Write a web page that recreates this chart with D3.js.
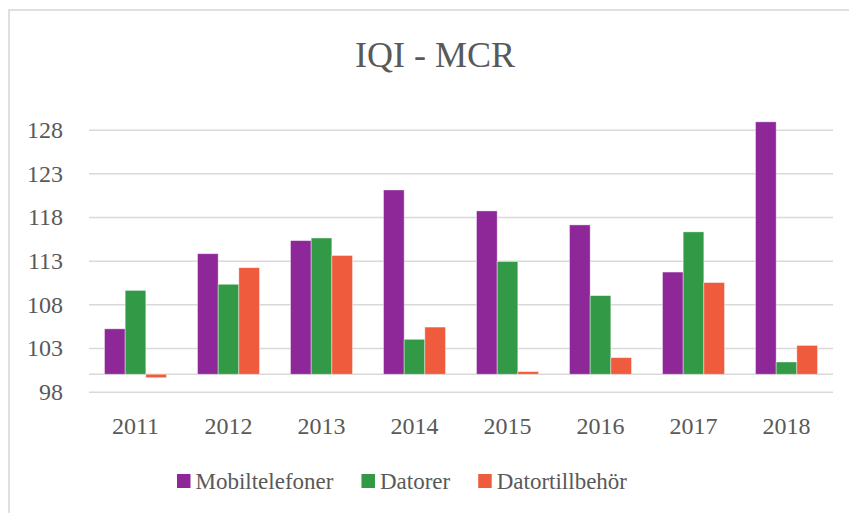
<!DOCTYPE html>
<html>
<head>
<meta charset="utf-8">
<script src="https://cdn.jsdelivr.net/npm/d3@7"></script>
<style>
  body { margin: 0; background: #fff; }
  svg { display: block; }
</style>
</head>
<body>
<svg id="chart" width="849" height="513"></svg>
<script>
// data
const years = ["2011", "2012", "2013", "2014", "2015", "2016", "2017", "2018"];
const seriesNames = ["Mobiltelefoner", "Datorer", "Datortillbehör"];
const mobiltelefoner = [105.2, 113.8, 115.3, 121.1, 118.7, 117.1, 111.7, 128.9];
const datorer = [109.6, 110.3, 115.6, 104.0, 112.9, 109.0, 116.3, 101.4];
const datortillbehor = [99.6, 112.2, 113.6, 105.4, 100.3, 101.9, 110.5, 103.3];
const yTicks = [98, 103, 108, 113, 118, 123, 128];
const baseValue = 100;

const colors = ["#8e2899", "#329a46", "#ef5b3d"];
const textColor = "#595959";
const gridColor = "#d9d9d9";
const fontFamily = "'Liberation Serif', 'Times New Roman', serif";

const rows = years.map((y, i) => ({
  year: y,
  values: [mobiltelefoner[i], datorer[i], datortillbehor[i]]
}));

const svg = d3.select("#chart");

// outer chart border (cropped at right and bottom)
svg.append("rect")
  .attr("x", 9).attr("y", 10)
  .attr("width", 900).attr("height", 600)
  .attr("fill", "#fff")
  .attr("stroke", gridColor)
  .attr("stroke-width", 1.6);

const x = d3.scaleBand().domain(years).range([89, 833])
  .paddingInner(1 / 3).paddingOuter(1 / 6);
const xSub = d3.scaleBand().domain(seriesNames).range([0, x.bandwidth()]);
const y = d3.scaleLinear().domain([98, 128]).range([391.7, 129.7]);

// title
svg.append("text")
  .attr("x", 435).attr("y", 67)
  .attr("text-anchor", "middle")
  .attr("font-family", fontFamily)
  .attr("font-size", 36)
  .attr("fill", textColor)
  .text("IQI - MCR");

// gridlines + y labels
const yAxis = d3.axisLeft(y).tickValues(yTicks).tickSize(-(833 - 89)).tickPadding(26);
const gy = svg.append("g").attr("transform", "translate(89,0)").call(yAxis);
gy.select(".domain").remove();
gy.selectAll(".tick line").attr("stroke", gridColor).attr("stroke-width", 1.5);
gy.selectAll(".tick text")
  .attr("font-family", fontFamily)
  .attr("font-size", 24)
  .attr("fill", textColor)
  .attr("dy", "0.32em");

// base axis line at 100
svg.append("line")
  .attr("x1", 89).attr("x2", 833)
  .attr("y1", y(baseValue)).attr("y2", y(baseValue))
  .attr("stroke", gridColor).attr("stroke-width", 1.5);

// bars
const groups = svg.append("g").selectAll("g")
  .data(rows).join("g")
  .attr("transform", d => `translate(${x(d.year)},0)`);

groups.selectAll("rect")
  .data(d => d.values.map((v, i) => ({ name: seriesNames[i], value: v, i })))
  .join("rect")
  .attr("x", d => xSub(d.name))
  .attr("width", xSub.bandwidth())
  .attr("y", d => Math.min(y(d.value), y(baseValue)))
  .attr("height", d => Math.abs(y(d.value) - y(baseValue)))
  .attr("fill", d => colors[d.i])
  .attr("stroke", "#fff")
  .attr("stroke-opacity", 0.5)
  .attr("stroke-width", 0.8);

// x labels
const xAxis = d3.axisBottom(x).tickSize(0).tickPadding(0);
const gx = svg.append("g").attr("transform", "translate(0,434)").call(xAxis);
gx.select(".domain").remove();
gx.selectAll(".tick text")
  .attr("font-family", fontFamily)
  .attr("font-size", 24)
  .attr("fill", textColor)
  .attr("dy", 0);

// legend
const legend = svg.append("g");
let lx = 177;
seriesNames.forEach((name, i) => {
  legend.append("rect")
    .attr("x", lx).attr("y", 474)
    .attr("width", 13.5).attr("height", 14)
    .attr("fill", colors[i]);
  const t = legend.append("text")
    .attr("x", lx + 18.5).attr("y", 489)
    .attr("font-family", fontFamily)
    .attr("font-size", 23)
    .attr("fill", textColor)
    .text(name);
  lx += 18.5 + t.node().getComputedTextLength() + 28;
});
</script>
</body>
</html>
